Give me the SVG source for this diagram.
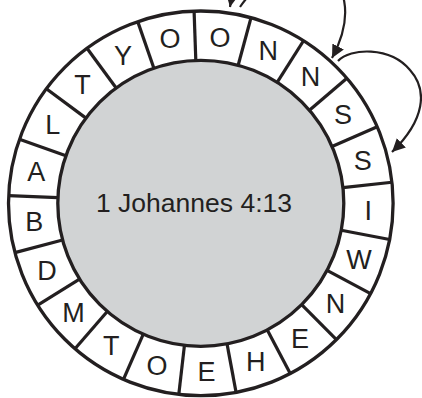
<svg xmlns="http://www.w3.org/2000/svg" width="422" height="398" viewBox="0 0 422 398">
<style>
.ring{fill:#ffffff;stroke:#231f20;stroke-width:3.3}
.hub{fill:#d1d3d4;stroke:#231f20;stroke-width:3.3}
.div{stroke:#231f20;stroke-width:3.2;fill:none}
.lt{font-family:"Liberation Sans",Arial,sans-serif;font-size:27px;fill:#231f20;text-anchor:middle}
.ct{font-family:"Liberation Sans",Arial,sans-serif;font-size:26.5px;fill:#231f20;text-anchor:middle}
.arr{fill:none;stroke:#231f20;stroke-width:2.2;marker-end:url(#ah)}
</style>
<defs>
<marker id="ah" markerUnits="userSpaceOnUse" markerWidth="14" markerHeight="14" refX="13" refY="6.5" orient="auto">
<path d="M0,0 L13,6.5 L0,13 Z" fill="#231f20"/>
</marker>
</defs>
<g id="wheel">
<circle class="ring" cx="200.8" cy="203.3" r="192.3"/>
</g>
<g id="center">
<circle class="hub" cx="200.8" cy="203.3" r="143"/>
<text class="ct" x="194" y="212">1 Johannes 4:13</text>
</g>
<g id="dividers" transform="translate(200.8 203.3)">
<line class="div" x1="143" y1="0" x2="192.3" y2="0" transform="rotate(-92)"/>
<line class="div" x1="143" y1="0" x2="192.3" y2="0" transform="rotate(-74.857)"/>
<line class="div" x1="143" y1="0" x2="192.3" y2="0" transform="rotate(-57.714)"/>
<line class="div" x1="143" y1="0" x2="192.3" y2="0" transform="rotate(-40.571)"/>
<line class="div" x1="143" y1="0" x2="192.3" y2="0" transform="rotate(-23.429)"/>
<line class="div" x1="143" y1="0" x2="192.3" y2="0" transform="rotate(-6.286)"/>
<line class="div" x1="143" y1="0" x2="192.3" y2="0" transform="rotate(10.857)"/>
<line class="div" x1="143" y1="0" x2="192.3" y2="0" transform="rotate(28)"/>
<line class="div" x1="143" y1="0" x2="192.3" y2="0" transform="rotate(45.143)"/>
<line class="div" x1="143" y1="0" x2="192.3" y2="0" transform="rotate(62.286)"/>
<line class="div" x1="143" y1="0" x2="192.3" y2="0" transform="rotate(79.429)"/>
<line class="div" x1="143" y1="0" x2="192.3" y2="0" transform="rotate(96.571)"/>
<line class="div" x1="143" y1="0" x2="192.3" y2="0" transform="rotate(113.714)"/>
<line class="div" x1="143" y1="0" x2="192.3" y2="0" transform="rotate(130.857)"/>
<line class="div" x1="143" y1="0" x2="192.3" y2="0" transform="rotate(148)"/>
<line class="div" x1="143" y1="0" x2="192.3" y2="0" transform="rotate(165.143)"/>
<line class="div" x1="143" y1="0" x2="192.3" y2="0" transform="rotate(182.286)"/>
<line class="div" x1="143" y1="0" x2="192.3" y2="0" transform="rotate(199.429)"/>
<line class="div" x1="143" y1="0" x2="192.3" y2="0" transform="rotate(216.571)"/>
<line class="div" x1="143" y1="0" x2="192.3" y2="0" transform="rotate(233.714)"/>
<line class="div" x1="143" y1="0" x2="192.3" y2="0" transform="rotate(250.857)"/>
</g>
<g id="seg0"><text class="lt" x="220.0" y="46.5">O</text></g>
<g id="seg1"><text class="lt" x="268.2" y="59.5">N</text></g>
<g id="seg2"><text class="lt" x="310.4" y="86.2">N</text></g>
<g id="seg3"><text class="lt" x="342.9" y="124.2">S</text></g>
<g id="seg4"><text class="lt" x="362.8" y="170.0">S</text></g>
<g id="seg5"><text class="lt" x="368.3" y="219.7">I</text></g>
<g id="seg6"><text class="lt" x="358.9" y="268.7">W</text></g>
<g id="seg7"><text class="lt" x="335.4" y="312.9">N</text></g>
<g id="seg8"><text class="lt" x="300.0" y="348.1">E</text></g>
<g id="seg9"><text class="lt" x="255.8" y="371.3">H</text></g>
<g id="seg10"><text class="lt" x="206.6" y="380.5">E</text></g>
<g id="seg11"><text class="lt" x="157.0" y="374.8">O</text></g>
<g id="seg12"><text class="lt" x="111.3" y="354.7">T</text></g>
<g id="seg13"><text class="lt" x="73.5" y="322.0">M</text></g>
<g id="seg14"><text class="lt" x="47.0" y="279.7">D</text></g>
<g id="seg15"><text class="lt" x="34.2" y="231.4">B</text></g>
<g id="seg16"><text class="lt" x="36.2" y="181.4">A</text></g>
<g id="seg17"><text class="lt" x="52.8" y="134.3">L</text></g>
<g id="seg18"><text class="lt" x="82.6" y="94.2">T</text></g>
<g id="seg19"><text class="lt" x="122.9" y="64.6">Y</text></g>
<g id="seg20"><text class="lt" x="170.0" y="48.2">O</text></g>
<g id="connectors">
<path class="arr" d="M200,-45 C225,-45 234,-15 230,7"/>
<path class="arr" d="M240,7 C255,-15 285,-40 320,-30 C345,-20 355.5,14 332,58"/>
<path class="arr" d="M338,61 C350,48 390,46 410,70 C428,90 425,120 392,152"/>
</g>
</svg>
